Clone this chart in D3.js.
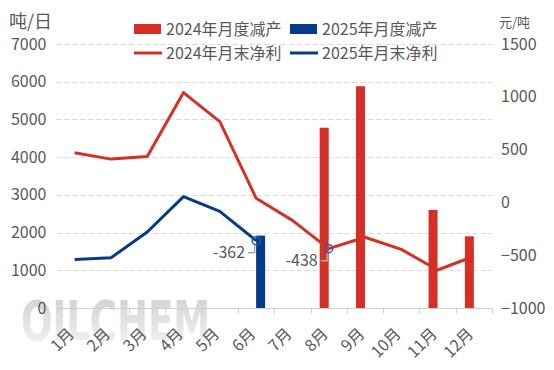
<!DOCTYPE html>
<html>
<head>
<meta charset="utf-8">
<script src="https://cdn.jsdelivr.net/npm/d3@7"></script>
<style>
  html, body { margin: 0; padding: 0; background: #fff; }
  svg { display: block; font-family: "Noto Sans CJK SC", "Noto Sans", sans-serif; }
</style>
</head>
<body>
<div id="chart"></div>
<script>
var months = ["1月", "2月", "3月", "4月", "5月", "6月", "7月", "8月", "9月", "10月", "11月", "12月"];
// 月度减产 (吨/日)
var cut2024 = [null, null, null, null, null, null, null, 4780, 5880, null, 2600, 1900];
var cut2025 = [null, null, null, null, null, 1920, null, null, null, null, null, null];
// 月末净利 (元/吨)
var profit2024 = [470, 410, 435, 1040, 765, 40, -170, -438, -330, -445, -640, -510];
var profit2025 = [-540, -525, -280, 55, -85, -362];
var leftTicks = [0, 1000, 2000, 3000, 4000, 5000, 6000, 7000];
var rightTicks = [-1000, -500, 0, 500, 1000, 1500];
var marked = [{ series: "2025", index: 5, label: "-362" }, { series: "2024", index: 7, label: "-438" }];

var RED = "#d43026", BLUE = "#063a8a", TEXT = "#595959";
var W = 554, H = 370;
var plotL = 56.5, plotR = 492, plotT = 44, plotB = 308;

var svg = d3.select("#chart").append("svg").attr("width", W).attr("height", H);

var x = d3.scaleBand().domain(months).range([plotL, plotR]);
var x1 = d3.scaleBand().domain(["2024", "2025"]).range([x.bandwidth() / 2 - 9, x.bandwidth() / 2 + 9]);
var yL = d3.scaleLinear().domain([0, 7000]).range([plotB, plotT]);
var yR = d3.scaleLinear().domain([-1000, 1500]).range([plotB, plotT]);

// watermark
var grad = svg.append("defs").append("linearGradient")
    .attr("id", "wm").attr("x1", 0).attr("y1", 0).attr("x2", 0).attr("y2", 1);
grad.append("stop").attr("offset", "0%").attr("stop-color", "#cdcdcd");
grad.append("stop").attr("offset", "100%").attr("stop-color", "#f6f6f6");
svg.append("text")
    .attr("x", 21).attr("y", 340)
    .attr("font-family", "'DejaVu Sans Condensed', 'Liberation Sans Narrow', sans-serif")
    .attr("font-size", 56).attr("font-weight", "bold")
    .attr("textLength", 189).attr("lengthAdjust", "spacingAndGlyphs")
    .attr("fill", "url(#wm)")
    .text("OILCHEM");

// grid
svg.append("g").selectAll("line").data(leftTicks.slice(1)).join("line")
    .attr("x1", plotL).attr("x2", plotR)
    .attr("y1", function (d) { return Math.round(yL(d)) + 0.5; })
    .attr("y2", function (d) { return Math.round(yL(d)) + 0.5; })
    .attr("stroke", "#d9d9d9").attr("stroke-dasharray", "5,3");

// left axis
var axL = svg.append("g").attr("transform", "translate(" + plotL + ",0)")
    .call(d3.axisLeft(yL).tickValues(leftTicks).tickSize(0).tickPadding(10).tickFormat(d3.format("d")));
axL.select(".domain").remove();
axL.selectAll("text").attr("fill", TEXT).attr("font-size", 16).attr("font-family", "'Noto Sans CJK SC', sans-serif");

// right axis
var axR = svg.append("g").attr("transform", "translate(" + plotR + ",0)")
    .call(d3.axisRight(yR).tickValues(rightTicks).tickSize(0).tickPadding(9).tickFormat(d3.format("d")));
axR.select(".domain").remove();
axR.selectAll("text").attr("fill", TEXT).attr("font-size", 16).attr("font-family", "'Noto Sans CJK SC', sans-serif");

// bars
var bars = svg.append("g");
[["2024", cut2024, RED], ["2025", cut2025, BLUE]].forEach(function (s) {
  bars.selectAll(null).data(s[1].map(function (v, i) { return { m: months[i], v: v }; }).filter(function (d) { return d.v != null; }))
    .join("rect")
    .attr("x", function (d) { return x(d.m) + x1(s[0]); })
    .attr("width", x1.bandwidth())
    .attr("y", function (d) { return yL(d.v); })
    .attr("height", function (d) { return yL(0) - yL(d.v); })
    .attr("fill", s[2]);
});

// x axis
var axX = svg.append("g").attr("transform", "translate(0," + (plotB + 0.5) + ")");
axX.append("line").attr("x1", plotL).attr("x2", plotR).attr("stroke", "#d0d0d0");
axX.selectAll("line.tk").data(d3.range(months.length + 1)).join("line").attr("class", "tk")
    .attr("x1", function (i) { return Math.round(plotL + i * x.step()) + 0.5; })
    .attr("x2", function (i) { return Math.round(plotL + i * x.step()) + 0.5; })
    .attr("y1", 0).attr("y2", 5).attr("stroke", "#d0d0d0");
axX.selectAll("text").data(months).join("text")
    .attr("transform", function (d) { return "translate(" + (x(d) + x.bandwidth() / 2 - 8) + ",18) rotate(-45)"; })
    .attr("text-anchor", "end").attr("dy", "0.75em")
    .attr("fill", TEXT).attr("font-size", 16)
    .text(function (d) { return d; });

// lines
var line = d3.line()
    .x(function (d, i) { return x(months[i]) + x.bandwidth() / 2; })
    .y(function (d) { return yR(d); });
svg.append("path").datum(profit2024).attr("d", line)
    .attr("fill", "none").attr("stroke", RED).attr("stroke-width", 3).attr("stroke-linejoin", "round");
svg.append("path").datum(profit2025).attr("d", line)
    .attr("fill", "none").attr("stroke", BLUE).attr("stroke-width", 3).attr("stroke-linejoin", "round");

// marked points
marked.forEach(function (m) {
  var v = m.series === "2024" ? profit2024[m.index] : profit2025[m.index];
  var cx = x(months[m.index]) + x.bandwidth() / 2, cy = yR(v);
  svg.append("polyline")
    .attr("points", [[cx - 1.5, cy + 3], [cx - 1.5, cy + 12], [cx - 8, cy + 12]].join(" "))
    .attr("fill", "none").attr("stroke", "#a6a6a6").attr("stroke-width", 1.5);
  svg.append("circle").attr("cx", cx).attr("cy", cy).attr("r", 4)
    .attr("fill", "none").attr("stroke", "#2f5aa8").attr("stroke-width", 1.5);
  svg.append("text").attr("x", cx - 11).attr("y", cy + 12).attr("dy", "0.35em")
    .attr("text-anchor", "end").attr("fill", TEXT).attr("font-size", 16)
    .text(m.label);
});

// axis titles
svg.append("text").attr("x", 9).attr("y", 28).attr("fill", TEXT).attr("font-size", 18).text("吨/日");
svg.append("text").attr("x", 499).attr("y", 27).attr("fill", TEXT).attr("font-size", 13).text("元/吨");

// legend
var legend = [
  { label: "2024年月度减产", color: RED, type: "rect", lx: 134, ly: 29 },
  { label: "2025年月度减产", color: BLUE, type: "rect", lx: 290, ly: 29 },
  { label: "2024年月末净利", color: RED, type: "line", lx: 134, ly: 53 },
  { label: "2025年月末净利", color: BLUE, type: "line", lx: 290, ly: 53 }
];
var lg = svg.append("g").selectAll("g").data(legend).join("g")
    .attr("transform", function (d) { return "translate(" + d.lx + "," + d.ly + ")"; });
lg.filter(function (d) { return d.type === "rect"; }).append("rect")
    .attr("x", 0).attr("y", -5).attr("width", 27).attr("height", 10).attr("fill", function (d) { return d.color; });
lg.filter(function (d) { return d.type === "line"; }).append("line")
    .attr("x1", 0).attr("x2", 28).attr("stroke-width", 3).attr("stroke", function (d) { return d.color; });
lg.append("text").attr("x", 32).attr("dy", "0.35em").attr("fill", TEXT).attr("font-size", 16)
    .text(function (d) { return d.label; });
</script>
</body>
</html>
